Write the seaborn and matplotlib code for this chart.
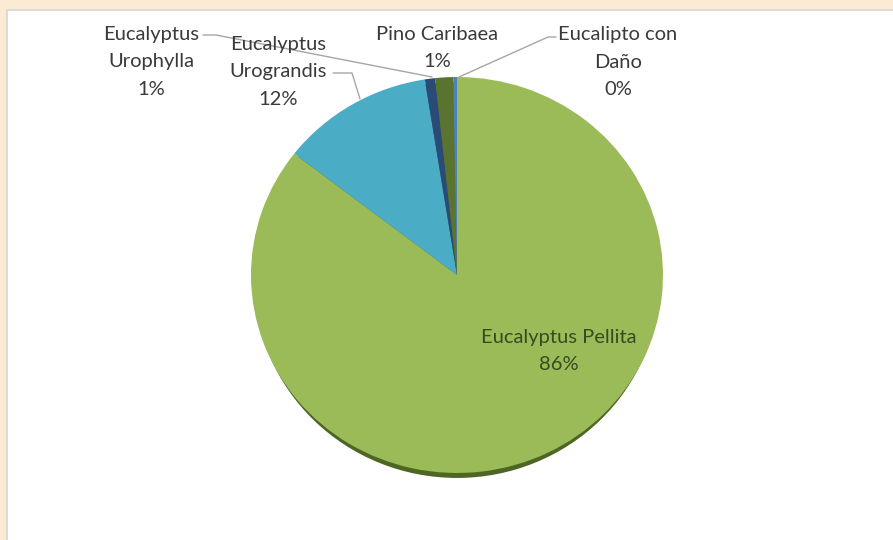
import matplotlib
matplotlib.use('Agg')
import matplotlib.pyplot as plt
from matplotlib.patches import Rectangle, Ellipse
import seaborn as sns

# data
species = ['Eucalyptus Pellita', 'Eucalyptus Urograndis', 'Eucalyptus Urophylla',
           'Pino Caribaea', 'Eucalipto con Daño']
shares = [85.5, 12.0, 0.8, 1.4, 0.3]
slice_colors = ['#9BBB59', '#4BACC6', '#2A4B78', '#5A7430', '#4F81BD']
label_names = ['Eucalyptus Pellita', 'Eucalyptus\nUrograndis', 'Eucalyptus\nUrophylla',
               'Pino Caribaea', 'Eucalipto con\nDaño']

sns.set_theme(style='white')
plt.rcParams['font.family'] = ['Lato', 'DejaVu Sans']

W, H = 893, 540
fig = plt.figure(figsize=(W / 100, H / 100), dpi=100)
fig.patch.set_facecolor('#FBEBD2')

# white chart area
bg = fig.add_axes([0, 0, 1, 1])
bg.set_xlim(0, W)
bg.set_ylim(H, 0)
bg.axis('off')
bg.add_patch(Rectangle((7, 10), W, H, facecolor='white', edgecolor='#D6D6D6', lw=1.2))

# pie, slightly elliptical like the original
cx, cy, rx, ry = 457, 275, 206, 198
m = 1.2
ax = fig.add_axes([(cx - rx * m) / W, (H - cy - ry * m) / H, 2 * rx * m / W, 2 * ry * m / H])
ax.add_patch(Ellipse((0, -0.025), 1.97, 2, facecolor='#4E6624', edgecolor='none', zorder=0))
wedges, _ = ax.pie(shares, colors=slice_colors, startangle=90, counterclock=False,
                   radius=1, frame=True, wedgeprops=dict(linewidth=0))
ax.set_xlim(-m, m)
ax.set_ylim(-m, m)
ax.set_aspect('auto')
ax.axis('off')

# labels and leader lines
ov = fig.add_axes([0, 0, 1, 1])
ov.set_xlim(0, W)
ov.set_ylim(H, 0)
ov.axis('off')
ov.patch.set_alpha(0)

pct = [f'{int(v + 0.5)}%' for v in shares]
label_pos = [(559, 351), (278, 72), (151, 62), (437, 48), (618, 62)]
text_colors = ['#3A4A20', '#3A3A3A', '#3A3A3A', '#3A3A3A', '#3A3A3A']
for name, p, (x, y), c in zip(label_names, pct, label_pos, text_colors):
    ov.text(x, y, name + '\n' + p, ha='center', va='center', fontsize=14.5,
            color=c, linespacing=1.78)

line_c = '#A6A6A6'
ov.plot([203, 216, 432], [35, 35, 77], color=line_c, lw=1)
ov.plot([333, 352, 360], [73, 73, 99], color=line_c, lw=1)
ov.plot([459, 548, 556], [77, 37, 37], color=line_c, lw=1)

fig.savefig('out.png', dpi=100, facecolor=fig.get_facecolor())
